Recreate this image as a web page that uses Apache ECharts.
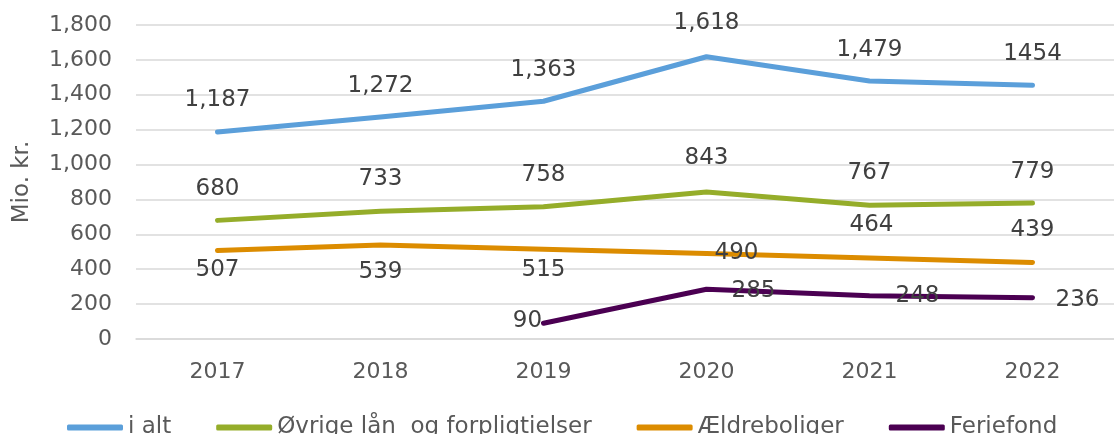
<!DOCTYPE html>
<html>
<head>
<meta charset="utf-8">
<script src="https://cdn.jsdelivr.net/npm/echarts@6/dist/echarts.min.js"></script>
<style>
  html, body { margin: 0; padding: 0; background: #fff; }
  #chart { width: 1114px; height: 434px; }
</style>
</head>
<body>
<div id="chart"></div>
<script>
  // data
  var years = ['2017', '2018', '2019', '2020', '2021', '2022']
  var iAlt = [1187, 1272, 1363, 1618, 1479, 1454]
  var ovrige = [680, 733, 758, 843, 767, 779]
  var aeldreboliger = [507, 539, 515, 490, 464, 439]
  var feriefond = [null, null, 90, 285, 248, 236]

  // label placement per point (px offsets from the point)
  var iAltOffsets = [[0, -32], [0, -31], [0, -31], [0, -34], [0, -31], [0, -31]]
  var ovrigeOffsets = [[0, -31], [0, -32], [0, -32], [0, -34], [0, -32], [0, -31]]
  var aeldreOffsets = [[0, 19], [0, 27], [0, 21], [30, 0], [2, -33], [0, -32]]
  var ferieOffsets = [null, null, [-16, -2], [47, 2], [48, 0], [45, 2]]

  var font = 'DejaVu Sans, Verdana, sans-serif'

  function fmt(v) {
    return String(v).replace(/\B(?=(\d{3})+(?!\d))/g, ',')
  }

  function points(values, offsets, plain) {
    return values.map(function (v, i) {
      if (v == null) return null
      return {
        value: v,
        label: {
          offset: offsets[i],
          // the last "i alt" label is written without separator in the original
          formatter: plain && plain.indexOf(i) >= 0 ? String(v) : fmt(v)
        }
      }
    })
  }

  function line(name, color, data) {
    return {
      name: name,
      type: 'line',
      data: data,
      symbol: 'circle',
      symbolSize: 1,
      showSymbol: true,
      connectNulls: false,
      itemStyle: { color: color },
      lineStyle: { color: color, width: 5, cap: 'round', join: 'round' },
      label: {
        show: true,
        position: 'inside',
        fontFamily: font,
        fontSize: 23,
        color: '#404040'
      },
      emphasis: { disabled: true },
      z: 2
    }
  }

  var myChart = echarts.init(document.getElementById('chart'))
  myChart.setOption({
    animation: false,
    grid: {
      left: 136,
      top: 25,
      width: 989,
      height: 314
    },
    legend: {
      left: 62,
      top: 411,
      icon: 'roundRect',
      itemWidth: 56,
      itemHeight: 6,
      itemGap: 45,
      textStyle: { fontFamily: font, fontSize: 23, color: '#595959' },
      data: ['i alt', 'Øvrige lån  og forpligtielser', 'Ældreboliger', 'Feriefond']
    },
    xAxis: {
      type: 'category',
      data: years,
      boundaryGap: true,
      axisLine: { lineStyle: { color: '#d9d9d9', width: 1.5 } },
      axisTick: { show: false },
      axisLabel: { fontFamily: font, fontSize: 22, color: '#595959', margin: 22 }
    },
    yAxis: {
      type: 'value',
      min: 0,
      max: 1800,
      interval: 200,
      name: 'Mio. kr.',
      nameLocation: 'middle',
      nameGap: 102,
      nameTextStyle: { fontFamily: font, fontSize: 23, color: '#595959' },
      axisLine: { show: false },
      axisTick: { show: false },
      splitLine: { lineStyle: { color: '#d9d9d9', width: 1.5 } },
      axisLabel: {
        fontFamily: font,
        fontSize: 22,
        color: '#595959',
        margin: 24,
        formatter: function (v) { return fmt(v) }
      }
    },
    series: [
      line('i alt', '#5b9fda', points(iAlt, iAltOffsets, [5])),
      line('Øvrige lån  og forpligtielser', '#95ad2a', points(ovrige, ovrigeOffsets)),
      line('Ældreboliger', '#dc8c00', points(aeldreboliger, aeldreOffsets)),
      line('Feriefond', '#4b0052', points(feriefond, ferieOffsets))
    ]
  })
</script>
</body>
</html>
